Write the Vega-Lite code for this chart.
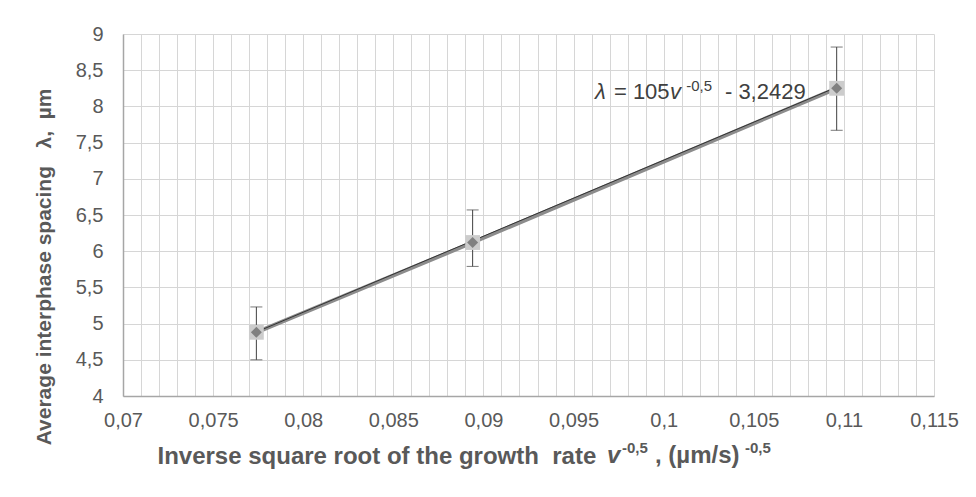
{
  "$schema": "https://vega.github.io/schema/vega-lite/v6.json",
  "autosize": {"type": "none"},
  "width": 811,
  "height": 362,
  "padding": {"left": 123, "top": 34, "right": 42, "bottom": 101},
  "background": "white",
  "config": {"view": {"stroke": null}},
  "datasets": {
    "pts": [
      {"x": 0.0774, "y": 4.88, "lo": 4.50, "hi": 5.23},
      {"x": 0.0894, "y": 6.12, "lo": 5.79, "hi": 6.57},
      {"x": 0.1096, "y": 8.25, "lo": 7.67, "hi": 8.82}
    ],
    "trend": [
      {"x": 0.0774, "y": 4.884},
      {"x": 0.1096, "y": 8.265}
    ],
    "labels": [
      {"t": "λ", "x": 0.09619, "y": 8.102, "kind": "eqi"},
      {"t": "= 105", "x": 0.09724, "y": 8.102, "kind": "eq"},
      {"t": "v", "x": 0.10035, "y": 8.102, "kind": "eqi"},
      {"t": "-0,5", "x": 0.10125, "y": 8.213, "kind": "eqs"},
      {"t": "- 3,2429", "x": 0.1034, "y": 8.102, "kind": "eq"},
      {"t": "v", "x": 0.09686, "y": 3.0746, "kind": "ti"},
      {"t": "-0,5", "x": 0.09769, "y": 3.2127, "kind": "ts"},
      {"t": ", (µm/s)", "x": 0.09952, "y": 3.0746, "kind": "t"},
      {"t": "-0,5", "x": 0.10451, "y": 3.2127, "kind": "ts"}
    ]
  },
  "encoding": {
    "x": {
      "field": "x", "type": "quantitative",
      "scale": {"domain": [0.07, 0.115], "nice": false, "zero": false},
      "axis": {
        "title": "Inverse square root of the growth\u00a0 rate",
        "titleFont": "Liberation Sans", "titleFontSize": 24, "titleFontWeight": "bold", "titleColor": "#595959",
        "titleAlign": "left", "titleAnchor": "start", "titleX": 34, "titleY": 67, "titleBaseline": "alphabetic",
        "values": [0.07,0.071,0.072,0.073,0.074,0.075,0.076,0.077,0.078,0.079,0.08,0.081,0.082,0.083,0.084,0.085,0.086,0.087,0.088,0.089,0.09,0.091,0.092,0.093,0.094,0.095,0.096,0.097,0.098,0.099,0.1,0.101,0.102,0.103,0.104,0.105,0.106,0.107,0.108,0.109,0.11,0.111,0.112,0.113,0.114,0.115],
        "labelExpr": "abs(datum.value*200 - round(datum.value*200)) < 0.001 ? replace(format(datum.value, '~g'), '.', ',') : ''",
        "labelOverlap": false, "labelFlush": false,
        "labelFont": "Liberation Sans", "labelFontSize": 20, "labelColor": "#595959", "labelPadding": 14,
        "ticks": false, "tickSize": 0,
        "grid": true, "gridColor": "#d6d6d6", "gridWidth": 1,
        "domainColor": "#a6a6a6", "domainWidth": 1.5
      }
    },
    "y": {
      "field": "y", "type": "quantitative",
      "scale": {"domain": [4, 9], "nice": false, "zero": false},
      "axis": {
        "title": "Average interphase spacing \u00a0 λ, \u00a0µm",
        "titleFont": "Liberation Sans", "titleFontSize": 21, "titleFontWeight": "bold", "titleColor": "#595959",
        "titleAngle": 270, "titleAlign": "right", "titleX": -79, "titleY": 54, "titleBaseline": "middle",
        "values": [4, 4.5, 5, 5.5, 6, 6.5, 7, 7.5, 8, 8.5, 9],
        "labelExpr": "replace(format(datum.value, '~g'), '.', ',')",
        "labelOverlap": false, "labelFlush": false,
        "labelFont": "Liberation Sans", "labelFontSize": 20, "labelColor": "#595959", "labelPadding": 20,
        "ticks": false, "tickSize": 0,
        "grid": true, "gridColor": "#d6d6d6", "gridWidth": 1,
        "domainColor": "#a6a6a6", "domainWidth": 1.5
      }
    }
  },
  "layer": [
    {
      "data": {"name": "pts"},
      "transform": [{"fold": ["lo", "hi"], "as": ["k", "y"]}],
      "mark": {"type": "line", "color": "#404040", "strokeWidth": 1},
      "encoding": {"detail": {"field": "x", "type": "nominal"}}
    },
    {
      "data": {"name": "pts"},
      "transform": [{"fold": ["lo", "hi"], "as": ["k", "y"]}],
      "mark": {"type": "tick", "orient": "horizontal", "size": 12, "thickness": 1, "color": "#404040"}
    },
    {
      "data": {"name": "pts"},
      "mark": {"type": "line", "color": "#8c8c8c", "strokeWidth": 4},
      "encoding": {}
    },
    {
      "data": {"name": "trend"},
      "mark": {"type": "line", "color": "#333333", "strokeWidth": 1},
      "encoding": {}
    },
    {
      "data": {"name": "pts"},
      "mark": {"type": "point", "shape": "square", "filled": true, "size": 220, "color": "#cccccc", "opacity": 1}
    },
    {
      "data": {"name": "pts"},
      "mark": {"type": "point", "shape": "diamond", "filled": true, "size": 120, "color": "#808080", "opacity": 1}
    },
    {
      "data": {"name": "labels"},
      "transform": [{"filter": "datum.kind == 'eq'"}],
      "mark": {"type": "text", "align": "left", "baseline": "alphabetic", "font": "Liberation Sans", "fontSize": 22, "color": "#404040"},
      "encoding": {"text": {"field": "t"}}
    },
    {
      "data": {"name": "labels"},
      "transform": [{"filter": "datum.kind == 'eqi'"}],
      "mark": {"type": "text", "align": "left", "baseline": "alphabetic", "font": "Liberation Sans", "fontSize": 22, "fontStyle": "italic", "color": "#404040"},
      "encoding": {"text": {"field": "t"}}
    },
    {
      "data": {"name": "labels"},
      "transform": [{"filter": "datum.kind == 'eqs'"}],
      "mark": {"type": "text", "align": "left", "baseline": "alphabetic", "font": "Liberation Sans", "fontSize": 15, "color": "#404040"},
      "encoding": {"text": {"field": "t"}}
    },
    {
      "data": {"name": "labels"},
      "transform": [{"filter": "datum.kind == 't'"}],
      "mark": {"type": "text", "align": "left", "baseline": "alphabetic", "font": "Liberation Sans", "fontSize": 24, "fontWeight": "bold", "color": "#595959"},
      "encoding": {"text": {"field": "t"}}
    },
    {
      "data": {"name": "labels"},
      "transform": [{"filter": "datum.kind == 'ti'"}],
      "mark": {"type": "text", "align": "left", "baseline": "alphabetic", "font": "Liberation Sans", "fontSize": 24, "fontWeight": "bold", "fontStyle": "italic", "color": "#595959"},
      "encoding": {"text": {"field": "t"}}
    },
    {
      "data": {"name": "labels"},
      "transform": [{"filter": "datum.kind == 'ts'"}],
      "mark": {"type": "text", "align": "left", "baseline": "alphabetic", "font": "Liberation Sans", "fontSize": 15, "fontWeight": "bold", "color": "#595959"},
      "encoding": {"text": {"field": "t"}}
    }
  ]
}
